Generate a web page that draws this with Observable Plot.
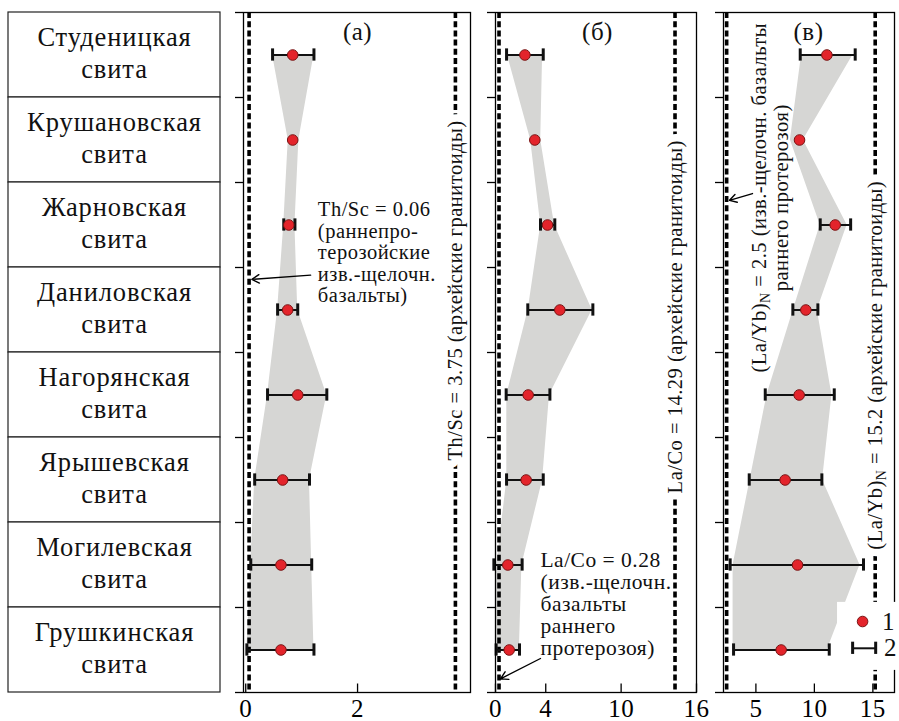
<!DOCTYPE html>
<html><head><meta charset="utf-8">
<script src="https://cdn.jsdelivr.net/npm/d3@7"></script>
<script src="https://cdn.jsdelivr.net/npm/@observablehq/plot@0.6"></script>
<style>
html,body{margin:0;padding:0;background:#fff;}
#wrap{position:relative;width:899px;height:721px;overflow:hidden;}
#wrap svg{position:absolute;left:0;top:0;}
#wrap svg.pan text{letter-spacing:0.5px;}
#wrap svg.tbl text{letter-spacing:0.9px;}
</style></head>
<body><div id="wrap"></div>
<script>
const formations = ["Студеницкая","Крушановская","Жарновская","Даниловская","Нагорянская","Ярышевская","Могилевская","Грушкинская"];

// (а) Th/Sc
const thscMean  = [0.84, 0.84, 0.77, 0.75, 0.93, 0.66, 0.63, 0.63];
const thscErrLo = [0.48, null, 0.68, 0.57, 0.39, 0.16, 0.09, 0.02];
const thscErrHi = [1.22, null, 0.88, 0.93, 1.45, 1.14, 1.18, 1.22];
const thscBandLo = [0.48, 0.76, 0.68, 0.57, 0.39, 0.16, 0.09, 0.02];
const thscBandHi = [1.22, 0.95, 0.88, 0.93, 1.45, 1.14, 1.18, 1.22];
const thscRefs = [0.06, 3.75];
const thscTicks = [0, 2];

// (б) La/Co
const lacoMean  = [2.34, 3.13, 4.14, 5.12, 2.60, 2.44, 0.98, 1.09];
const lacoErrLo = [0.88, null, 3.58, 2.57, 0.85, 0.88, -0.13, 0.05];
const lacoErrHi = [3.80, null, 4.72, 7.75, 4.33, 3.80, 2.12, 1.91];
const lacoBandLo = [0.95, 2.80, 3.60, 2.60, 0.90, 0.90, 0.10, 0.10];
const lacoBandHi = [3.75, 3.60, 4.70, 7.70, 4.30, 3.75, 2.10, 1.90];
const lacoRefs = [0.28, 14.29];
const lacoTicks = [0, 4, 10, 16];

// (в) (La/Yb)N
const labMean  = [11.07, 8.73, 11.78, 9.27, 8.70, 7.50, 8.56, 7.16];
const labErrLo = [8.79, null, 10.50, 8.16, 5.80, 4.43, 2.80, 3.09];
const labErrHi = [13.49, null, 13.10, 10.30, 11.70, 10.64, 14.20, 11.27];
const labBandLo = [8.90, 7.95, 10.50, 8.20, 5.95, 4.50, 3.05, 3.05];
const labBandHi = [13.30, 9.05, 12.80, 10.25, 11.50, 10.70, 13.90, 11.10];
const labRefs = [2.5, 15.2];
const labTicks = [5, 10, 15];

const FONT = "Liberation Serif, Times New Roman, serif";
const W = 899, H = 721, TOP = 12, BOTTOM = 29;
const rowTicks = d3.range(0, 9);

function table(mean, lo, hi, blo, bhi) {
  return formations.map((f, i) => ({f, row: i + 0.5, mean: mean[i], lo: lo[i], hi: hi[i], blo: blo[i], bhi: bhi[i]}));
}

const textOpts = {fontFamily: FONT, fill: "#111"};

// rotated label with a white knock-out behind it (breaks the dashed line)
function vlabel(str, opts) {
  return [
    Plot.text([str], {text: d => d, rotate: -90, fontSize: 20.5, fontFamily: FONT, fill: "white", stroke: "white", strokeWidth: 15, ...opts}),
    Plot.text([str], {text: d => d, rotate: -90, fontSize: 20.5, ...textOpts, ...opts})
  ];
}

function panel({left, right, domain, ticks, data, refs, extra = [], after = []}) {
  const err = data.filter(d => d.lo != null);
  const cap = 0.072;
  const k = (domain[1] - domain[0]) / (right - left);
  return Plot.plot({
    width: W, height: H, className: "pan",
    marginLeft: left, marginRight: W - right, marginTop: TOP, marginBottom: BOTTOM,
    style: {background: "none", overflow: "visible", fontFamily: FONT, color: "black"},
    x: {domain, axis: null},
    y: {domain: [0, 8], reverse: true, axis: null},
    marks: [
      Plot.areaX(data, {y: "row", x1: "blo", x2: "bhi", fill: "#d6d6d4", curve: "linear"}),
      Plot.ruleX(refs, {stroke: "black", strokeWidth: 3.6, strokeDasharray: "6,3.2"}),
      ...extra,
      Plot.ruleY(err, {y: "row", x1: "lo", x2: "hi", stroke: "#111", strokeWidth: 2}),
      Plot.ruleX(err, {x: "lo", y1: d => d.row - cap, y2: d => d.row + cap, stroke: "#111", strokeWidth: 3}),
      Plot.ruleX(err, {x: "hi", y1: d => d.row - cap, y2: d => d.row + cap, stroke: "#111", strokeWidth: 3}),
      Plot.dot(data, {x: "mean", y: "row", r: 5.3, fill: "#e3242b", stroke: "#7a1414", strokeWidth: 1}),
      Plot.frame({stroke: "black", strokeWidth: 1.3}),
      Plot.ruleY(rowTicks, {x1: domain[0], x2: domain[0] - 8 * k, stroke: "black", strokeWidth: 1.3}),
      Plot.ruleX(ticks, {y1: 8, y2: 7.9, stroke: "black", strokeWidth: 1.3}),
      Plot.axisX({ticks, tickSize: 0, tickPadding: 7, fontSize: 25, fontFamily: FONT, label: null, tickFormat: d => String(d)}),
      ...after
    ]
  });
}

const wrap = document.getElementById("wrap");

// left table of formations
const tablePlot = Plot.plot({
  width: W, height: H, className: "tbl",
  marginLeft: 8, marginRight: W - 220, marginTop: TOP, marginBottom: BOTTOM,
  style: {background: "none", overflow: "visible", fontFamily: FONT, color: "black"},
  x: {domain: [0, 1], axis: null},
  y: {domain: formations, padding: 0, axis: null},
  marks: [
    Plot.barX(formations, {x1: 0, x2: 1, y: d => d, fill: "white", stroke: "#222", strokeWidth: 1.2}),
    Plot.text(formations, {x: 0.5, y: d => d, text: d => d + "\nсвита", fontSize: 26.5, lineHeight: 1.2, dy: -3, fill: "#111", fontFamily: FONT})
  ]
});
wrap.append(tablePlot);

// (а)
wrap.append(panel({
  left: 243, right: 470, domain: [-0.04, 4.02], ticks: thscTicks,
  data: table(thscMean, thscErrLo, thscErrHi, thscBandLo, thscBandHi), refs: thscRefs,
  extra: [
    ...vlabel("Th/Sc = 3.75 (архейские гранитоиды)", {x: 3.75, y: 3.27}),
    Plot.text(["(а)"], {x: 2.0, y: 0.225, text: d => d, fontSize: 25, ...textOpts}),
    Plot.text(["Th/Sc = 0.06\n(раннепро-\nтерозойские\nизв.-щелочн.\nбазальты)"], {x: 1.29, y: 2.82, text: d => d, textAnchor: "start", fontSize: 20.5, lineHeight: 1.05, ...textOpts}),
    Plot.arrow([0], {x1: 1.16, y1: 3.09, x2: 0.11, y2: 3.14, stroke: "black", strokeWidth: 1.4, headLength: 9})
  ]
}));

// (б)
wrap.append(panel({
  left: 495, right: 696, domain: [0, 16], ticks: lacoTicks,
  data: table(lacoMean, lacoErrLo, lacoErrHi, lacoBandLo, lacoBandHi), refs: lacoRefs,
  extra: [
    ...vlabel("La/Co = 14.29 (архейские гранитоиды)", {x: 14.29, y: 3.58}),
    Plot.text(["(б)"], {x: 8.12, y: 0.225, text: d => d, fontSize: 25, ...textOpts}),
    Plot.text(["La/Co = 0.28\n(изв.-щелочн.\nбазальты\nраннего\nпротерозоя)"], {x: 3.58, y: 6.96, text: d => d, textAnchor: "start", fontSize: 21.5, lineHeight: 1.03, ...textOpts}),
    Plot.arrow([0], {x1: 3.58, y1: 7.6, x2: 0.4, y2: 7.84, stroke: "black", strokeWidth: 1.4, headLength: 9})
  ]
}));

// (в)
const pv = panel({
  left: 723, right: 894, domain: [2.23, 16.85], ticks: labTicks,
  data: table(labMean, labErrLo, labErrHi, labBandLo, labBandHi), refs: labRefs,
  extra: [
    ...vlabel("(La/Yb)N = 15.2 (архейские гранитоиды)", {x: 15.2, y: 4.15}),
    Plot.text(["(в)"], {x: 9.5, y: 0.225, text: d => d, fontSize: 25, ...textOpts}),
    Plot.text(["(La/Yb)N = 2.5 (изв.-щелочн. базальты\nраннего протерозоя)"], {x: 6.2, y: 2.18, text: d => d, rotate: -90, fontSize: 20.5, lineHeight: 1.1, ...textOpts}),
    Plot.arrow([0], {x1: 4.71, y1: 2.13, x2: 2.74, y2: 2.21, stroke: "black", strokeWidth: 1.4, headLength: 9})
  ],
  after: [
    Plot.rect([0], {x1: 11.98, x2: 18.5, y1: 6.94, y2: 7.74, fill: "white"}),
    Plot.dot([0], {x: 14.12, y: 7.165, r: 5.3, fill: "#e3242b", stroke: "#7a1414", strokeWidth: 1}),
    Plot.text(["1"], {x: 16.34, y: 7.165, text: d => d, fontSize: 25, ...textOpts}),
    Plot.ruleY([0], {y: 7.48, x1: 13.27, x2: 15.24, stroke: "#111", strokeWidth: 2}),
    Plot.ruleX([13.27, 15.24], {x: d => d, y1: 7.48 - 0.072, y2: 7.48 + 0.072, stroke: "#111", strokeWidth: 3}),
    Plot.text(["2"], {x: 16.51, y: 7.48, text: d => d, fontSize: 25, ...textOpts})
  ]
});
wrap.append(pv);

// subscript N in (La/Yb)N
const NS = "http://www.w3.org/2000/svg";
pv.querySelectorAll("text, tspan").forEach(el => {
  if (el.children.length === 0 && el.textContent.includes("(La/Yb)N")) {
    const [a, b] = el.textContent.split("(La/Yb)N");
    el.textContent = "";
    el.append(document.createTextNode(a + "(La/Yb)"));
    const sub = document.createElementNS(NS, "tspan");
    sub.setAttribute("font-size", "14");
    sub.setAttribute("dy", "4");
    sub.textContent = "N";
    const rest = document.createElementNS(NS, "tspan");
    rest.setAttribute("dy", "-4");
    rest.textContent = b;
    el.append(sub, rest);
  }
});
</script></body></html>
